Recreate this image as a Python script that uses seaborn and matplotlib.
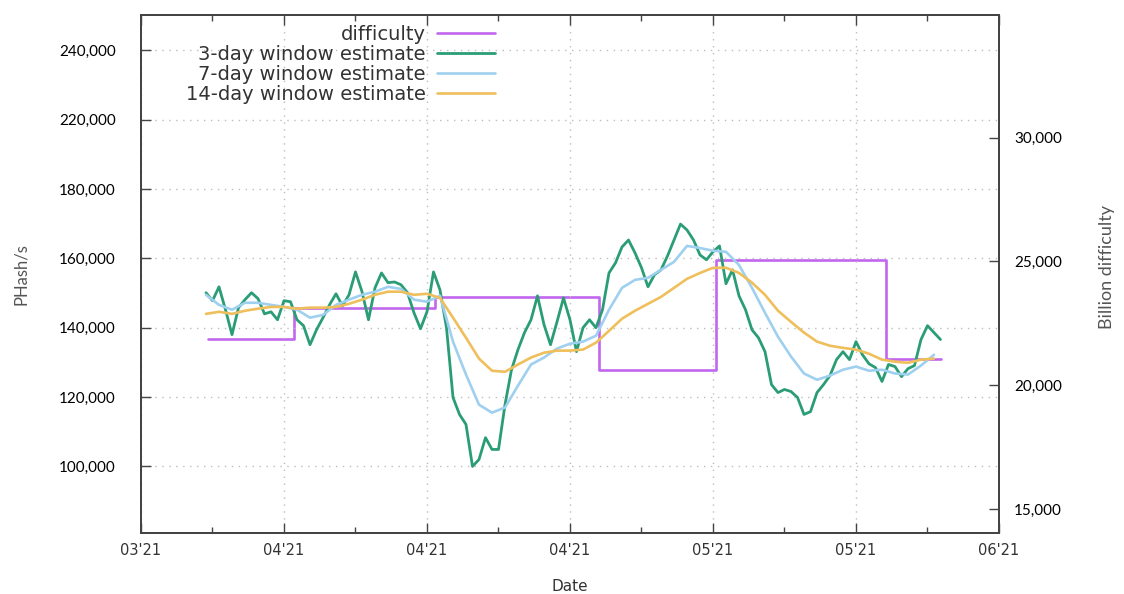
import matplotlib
matplotlib.use("Agg")
import matplotlib.pyplot as plt
import matplotlib.dates as mdates
import pandas as pd
import seaborn as sns

# Hashrate estimates (PHash/s)
est_3d_start = "2021-04-02 00:00"   # one value every 12 hours
est_3d = [
    150100, 147800, 151800, 145200, 138000, 145800, 148100, 150100, 148400, 144000,
    144600, 142300, 147800, 147500, 142300, 140600, 135100, 139400, 142900, 146600,
    149800, 146300, 149500, 156100, 150400, 142300, 151500, 155800, 153000, 153200,
    152400, 150100, 144300, 139700, 144600, 156100, 150900, 140000, 119900, 115000,
    112100, 100000, 102000, 108300, 104900, 104900, 117800, 127900, 133700, 138600,
    142300, 149200, 140900, 135100, 141700, 148600, 142300, 133100, 140000, 142300,
    140000, 145200, 155800, 158700, 163300, 165300, 161600, 157300, 151800, 155300,
    156700, 160700, 165300, 169900, 168200, 165300, 161000, 159600, 161900, 163600,
    152700, 156700, 149200, 145200, 139400, 137100, 133100, 123600, 121300, 122200,
    121600, 119900, 115000, 115800, 121300, 123600, 126200, 130800, 133100, 130800,
    136000, 132200, 129600, 128500, 124500, 129400, 128800, 125900, 128200, 129100,
    136600, 140600, 138600, 136600,
]
est_daily_start = "2021-04-02"      # one value per day
est_7d = [
    149500, 146600, 145200, 147200, 147200, 146600, 146000, 145200, 142900, 143700,
    146600, 148100, 149500, 150400, 151800, 151200, 148100, 147500, 149200, 136000,
    126500, 117800, 115500, 117000, 123300, 129400, 131400, 134000, 135400, 136000,
    137700, 145200, 151500, 153800, 154400, 156700, 159000, 163600, 163000, 162200,
    161900, 158100, 151500, 144300, 137400, 131700, 126800, 125000, 126200, 127900,
    128800, 127600, 127900, 126800, 126500, 129100, 132200,
]
est_14d = [
    144000, 144600, 144000, 144900, 145500, 146000, 146000, 145500, 145800, 145800,
    146000, 146900, 148100, 149500, 150400, 150400, 149500, 149800, 148600, 142900,
    137100, 131100, 127600, 127300, 129400, 131400, 132800, 133400, 133400, 133700,
    135700, 139100, 142600, 144900, 146900, 148900, 151500, 154100, 155800, 157300,
    157300, 155800, 153000, 149500, 144900, 141700, 138600, 136000, 134800, 134200,
    133700, 132500, 130800, 130200, 129900, 130800, 131100,
]

# Difficulty epochs (billion difficulty): epoch start times, last entry closes the series
diff_dates = ["2021-04-02 04:00", "2021-04-08 18:00", "2021-04-19 14:00",
              "2021-05-02 05:00", "2021-05-11 05:00", "2021-05-24 07:00",
              "2021-05-28 12:00"]
diff_values = [21865, 23137, 23581, 20608, 25046, 21047, 21047]

# Axis ticks
date_ticks = ["2021-03-28", "2021-04-08", "2021-04-19", "2021-04-30",
              "2021-05-11", "2021-05-22", "2021-06-02"]
date_minor_ticks = ["2021-04-02 12:00", "2021-04-13 12:00", "2021-04-24 12:00",
                    "2021-05-05 12:00", "2021-05-16 12:00", "2021-05-27 12:00"]
hash_ticks = [100000, 120000, 140000, 160000, 180000, 200000, 220000]
hash_ticklabels = ["100,000", "120,000", "140,000", "160,000", "180,000",
                   "220,000", "240,000"]
diff_ticks = [15000, 20000, 25000, 30000]
diff_ticklabels = ["15,000", "20,000", "25,000", "30,000"]

series_names = ["difficulty", "3-day window estimate",
                "7-day window estimate", "14-day window estimate"]
colors = ["#c266ee", "#2a9d76", "#9fd0ef", "#efbf5c"]

df_3d = pd.DataFrame({
    "date": pd.date_range(est_3d_start, periods=len(est_3d), freq="12h"),
    "phash": est_3d,
})
daily = pd.date_range(est_daily_start, periods=len(est_7d), freq="D")
df_7d = pd.DataFrame({"date": daily, "phash": est_7d})
df_14d = pd.DataFrame({"date": daily, "phash": est_14d})
df_diff = pd.DataFrame({"date": pd.to_datetime(diff_dates), "difficulty": diff_values})

sns.set_style("white")
plt.rcParams["font.family"] = ["DejaVu Sans"]

fig = plt.figure(figsize=(11.24, 5.94), dpi=100)
ax = fig.add_axes([141 / 1124, 1 - 533 / 594, 858 / 1124, 518 / 594])
ax2 = ax.twinx()

round_joins = dict(solid_joinstyle="round", solid_capstyle="round")
sns.lineplot(data=df_diff, x="date", y="difficulty", ax=ax2, color=colors[0],
             linewidth=1.9, drawstyle="steps-post", legend=False)
sns.lineplot(data=df_3d, x="date", y="phash", ax=ax, color=colors[1],
             linewidth=2.0, legend=False, **round_joins)
sns.lineplot(data=df_7d, x="date", y="phash", ax=ax, color=colors[2],
             linewidth=1.9, legend=False, **round_joins)
sns.lineplot(data=df_14d, x="date", y="phash", ax=ax, color=colors[3],
             linewidth=1.9, legend=False, **round_joins)

# hashrate curves above the difficulty steps
ax.set_zorder(ax2.get_zorder() + 1)
ax.patch.set_visible(False)

# x axis
ax.set_xlim(pd.Timestamp(date_ticks[0]), pd.Timestamp(date_ticks[-1]))
ax.set_xticks(mdates.date2num(pd.to_datetime(date_ticks)))
ax.set_xticks(mdates.date2num(pd.to_datetime(date_minor_ticks)), minor=True)
ax.xaxis.set_major_formatter(mdates.DateFormatter("%m'%y"))
ax.set_xlabel("Date", fontsize=11, color="#333333")
ax.xaxis.set_label_coords(0.5, -0.089)

# left axis
ax.set_ylim(80800, 230200)
ax.set_yticks(hash_ticks, labels=hash_ticklabels, fontfamily="Lato", fontsize=11)
ax.set_ylabel("PHash/s", fontfamily="Lato", fontsize=12, color="#555555")
ax.yaxis.set_label_coords(-0.131, 0.5)

# right axis
ax2.set_ylim(14040, 34950)
ax2.set_yticks(diff_ticks, labels=diff_ticklabels, fontfamily="Lato", fontsize=11)
ax2.set_ylabel("Billion difficulty", fontfamily="Lato", fontsize=13, color="#555555")
ax2.yaxis.set_label_coords(1.117, 0.513)
ax2.set_xlabel("")

frame = "#444444"
ax.tick_params(axis="x", which="both", direction="in", top=True, bottom=True,
               color=frame, width=1.0)
ax.tick_params(axis="x", which="major", length=7, pad=7, labelsize=10.5,
               labelcolor="#333333")
ax.tick_params(axis="x", which="minor", length=4)
ax.tick_params(axis="y", direction="in", left=True, right=False, length=7,
               width=1.0, color=frame, pad=18, labelcolor="black")
ax2.tick_params(axis="y", direction="in", right=True, left=False, length=7,
                width=1.0, color=frame, pad=11, labelcolor="black")

ax.grid(True, which="major", axis="both", linestyle=(0, (1, 4)),
        color="#bdbdbd", linewidth=1.0)
ax2.grid(False)
for a in (ax, ax2):
    for sp in a.spines.values():
        sp.set_color(frame)
        sp.set_linewidth(1.4)

handles = [ax2.lines[0]] + ax.lines[:3]
leg = ax.legend(handles, series_names, loc="upper right",
                bbox_to_anchor=(0.4126, 0.981), frameon=False, markerfirst=False,
                fontsize=14, handlelength=3.0, handletextpad=0.55,
                labelspacing=0.05, borderaxespad=0, borderpad=0)
for col in leg._legend_handle_box.get_children():
    col.align = "right"
for t in leg.get_texts():
    t.set_color("#333333")

fig.savefig("out.png", dpi=100)
